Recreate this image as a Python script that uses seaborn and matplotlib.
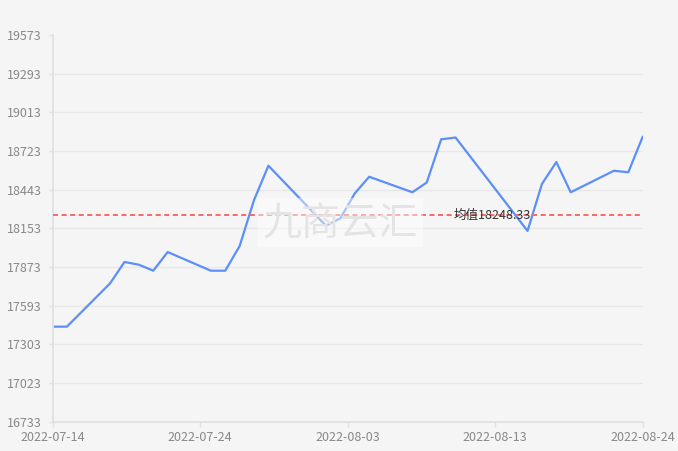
import matplotlib
matplotlib.use("Agg")
import matplotlib.pyplot as plt
import matplotlib.dates as mdates
import matplotlib.transforms as mtransforms
from matplotlib.patches import Rectangle
import numpy as np
import pandas as pd
import seaborn as sns

# ---- data ----
dates = ["2022-07-14", "2022-07-15", "2022-07-18", "2022-07-19", "2022-07-20",
         "2022-07-21", "2022-07-22", "2022-07-25", "2022-07-26", "2022-07-27",
         "2022-07-28", "2022-07-29", "2022-08-02", "2022-08-03", "2022-08-04",
         "2022-08-05", "2022-08-08", "2022-08-09", "2022-08-10", "2022-08-11",
         "2022-08-16", "2022-08-17", "2022-08-18", "2022-08-19", "2022-08-22",
         "2022-08-23", "2022-08-24"]
prices = [17431, 17431, 17749, 17906, 17886,
          17842, 17979, 17842, 17842, 18023,
          18361, 18613, 18172, 18227, 18410,
          18532, 18418, 18490, 18807, 18820,
          18134, 18479, 18640, 18418, 18576,
          18565, 18826]
mean_value = 18248.33
mean_label = "均值18248.33"
y_min, y_max = 16733, 19573
y_tick_labels = ["16733", "17023", "17303", "17593", "17873", "18153",
                 "18443", "18723", "19013", "19293", "19573"]
watermark = "九商云汇"

# ---- style ----
sns.set_style("white")
plt.rcParams['font.family'] = ['Noto Sans CJK SC', 'DejaVu Sans']

bg = '#f5f5f5'
fig = plt.figure(figsize=(6.78, 4.51), dpi=100, facecolor=bg)
ax = fig.add_axes([52.5 / 678, (451 - 421.7) / 451, (642.7 - 52.5) / 678, (421.7 - 35) / 451])
ax.set_facecolor(bg)

df = pd.DataFrame({'date': pd.to_datetime(dates), 'price': prices})
sns.lineplot(data=df, x='date', y='price', ax=ax, color='#5B8FF9', linewidth=1.6)

# mean line + label
ax.axhline(mean_value, color='#f46b6b', lw=1.4, ls=(0, (2.6, 1.8)), zorder=3)
trans = mtransforms.blended_transform_factory(ax.transAxes, ax.transData)
ax.text(0.745, mean_value, mean_label, transform=trans, ha='center', va='center',
        fontsize=9, color='#333333', zorder=4)

# axes
start = mdates.date2num(df['date'].min())
end = mdates.date2num(df['date'].max())
ax.set_xlim(start, end)
ax.set_ylim(y_min, y_max)
ax.set_xticks(np.linspace(start, end, 5))
ax.xaxis.set_major_formatter(mdates.DateFormatter('%Y-%m-%d'))
ax.set_yticks(np.linspace(y_min, y_max, len(y_tick_labels)))
ax.set_yticklabels(y_tick_labels)
ax.set_xlabel('')
ax.set_ylabel('')

for s in ['top', 'right']:
    ax.spines[s].set_visible(False)
for s in ['left', 'bottom']:
    ax.spines[s].set_color('#e0e0e0')
    ax.spines[s].set_linewidth(1.3)

ax.tick_params(axis='x', length=3.6, width=1, color='#e0e0e0', pad=3,
               labelsize=9, labelcolor='#888888', bottom=True)
ax.tick_params(axis='y', length=2.6, width=1, color='#e0e0e0', pad=5,
               labelsize=9, labelcolor='#888888', left=True)

ax.yaxis.grid(True, color='#e8e8e8', lw=1)
ax.xaxis.grid(False)
ax.set_axisbelow(True)
gl = ax.get_ygridlines()
gl[-1].set_visible(False)
gl[0].set_visible(False)

# watermark
fig.patches.append(Rectangle((258 / 678, (451 - 247) / 451), 165 / 678, 49 / 451,
                             transform=fig.transFigure, facecolor='white', alpha=0.45,
                             edgecolor='none', zorder=5))
fig.text(340.5 / 678, (451 - 224) / 451, watermark, ha='center', va='center',
         fontsize=28, color='#e4e4e4', zorder=6)

fig.savefig('out.png', dpi=100, facecolor=bg)
